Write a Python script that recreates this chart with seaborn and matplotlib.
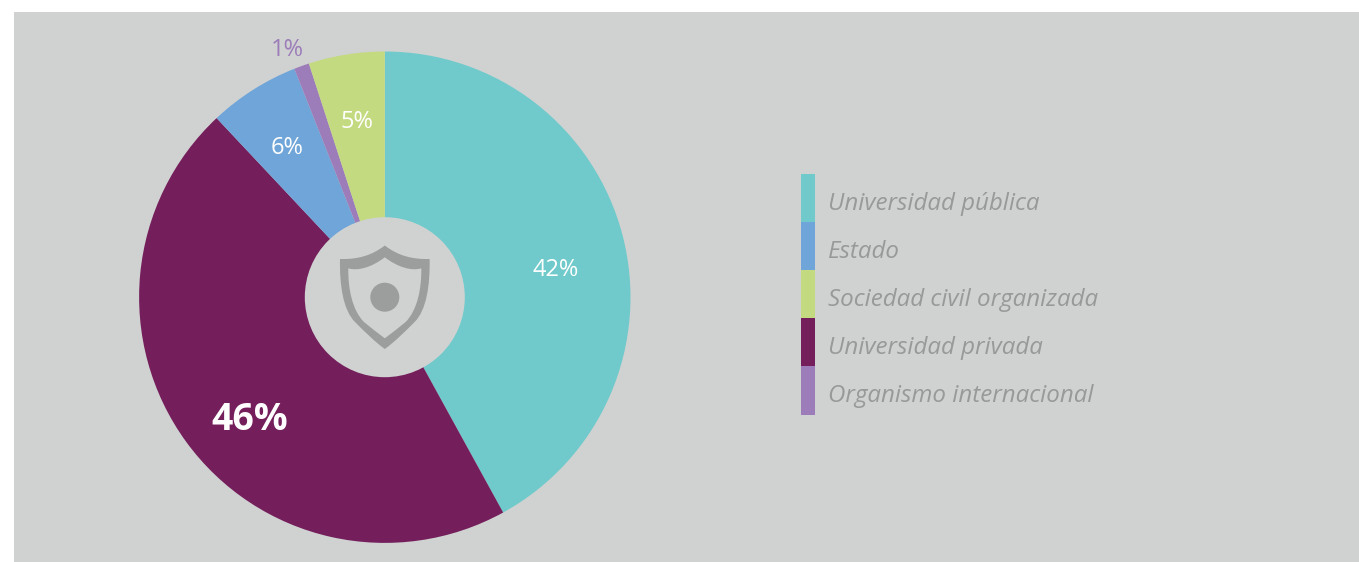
import matplotlib
matplotlib.use("Agg")
import matplotlib.pyplot as plt
import seaborn as sns
from matplotlib.patches import Circle, PathPatch, Rectangle
from matplotlib.path import Path

# chart values, clockwise from the top
categories = ["Universidad pública", "Universidad privada", "Estado", "Organismo internacional", "Sociedad civil organizada"]
shares = [42, 46, 6, 1, 5]
share_labels = ["42%", "46%", "6%", "1%", "5%"]
slice_colors = ["#70CACB", "#741F5C", "#6FA5D8", "#9C7DB9", "#C3DA81"]

# legend order is not the same as the slices
legend_order = ["Universidad pública", "Estado", "Sociedad civil organizada", "Universidad privada", "Organismo internacional"]

W, H = 1359, 562
bg_color = "#D0D2D1"
text_grey = "#989A9A"
icon_grey = "#9C9E9E"

sns.set_theme(style="white")
plt.rcParams["font.family"] = ["Open Sans", "DejaVu Sans"]
palette = sns.color_palette(slice_colors)
color_by_name = dict(zip(categories, palette))

fig = plt.figure(figsize=(W / 100, H / 100), dpi=100, facecolor="white")


def pixel_axes(zorder):
    # full figure axes in pixel coords
    a = fig.add_axes([0, 0, 1, 1], zorder=zorder)
    a.set_xlim(0, W)
    a.set_ylim(H, 0)
    a.axis("off")
    return a


# grey panel behind everything
back = pixel_axes(0)
back.add_patch(Rectangle((14, 12), W - 14, H - 12, color=bg_color, lw=0))

# the donut
radius = 245.7
cx, cy = 384.8, 297.2
ax = fig.add_axes([(cx - radius) / W, 1 - (cy + radius) / H, 2 * radius / W, 2 * radius / H], zorder=1)
ax.pie(shares, colors=palette, startangle=90, counterclock=False, radius=1,
       wedgeprops={"linewidth": 0})
ax.set_xlim(-1, 1)
ax.set_ylim(-1, 1)
ax.add_patch(Circle((0, 0), 80 / radius, color=bg_color, lw=0, zorder=3))

# everything on top of the donut
canvas = pixel_axes(2)

# value labels
label_pos = [(555.5, 269.5), (250, 420), (287, 148.5), (287, 49.5), (357, 122.5)]
label_size = [17, 27, 17, 17, 17]
label_color = ["white", "white", "white", "#9C7DB9", "white"]
label_weight = ["normal", "bold", "normal", "normal", "normal"]
for txt, pos, size, col, wgt in zip(share_labels, label_pos, label_size, label_color, label_weight):
    canvas.text(pos[0], pos[1], txt, fontsize=size, color=col, fontweight=wgt,
                ha="center", va="center")


def shield_outline(top_y, corner, side, low, bottom_y):
    # left half of the shield, mirrored for the right side
    left = [(cx, top_y), (cx - 13, top_y + 10), (cx - 27, top_y + 14), corner,
            side[0], side[1], low[0], low[1], low[2], (cx, bottom_y)]
    right = [(2 * cx - x, y) for x, y in left[-2::-1]]
    return left + right


outer = shield_outline(245.5, (340, 259), [(339.5, 285), (343, 310)],
                       [(355, 322), (365, 332), (375, 342)], 349)
inner = shield_outline(257.3, (348.3, 268.3), [(348, 288), (352, 310)],
                       [(364, 322), (371, 328), (378, 333)], 338.3)
ring_codes = [Path.MOVETO] + [Path.CURVE4] * (len(outer) - 1)
shield = Path(outer + inner[::-1], ring_codes + ring_codes)
canvas.add_patch(PathPatch(shield, facecolor=icon_grey, lw=0))
canvas.add_patch(Circle((cx, cy), 14.5, color=icon_grey, lw=0))

# legend, swatches touch each other
swatch_x, swatch_w, swatch_h = 801, 14, 48.1
top = 174
for i, name in enumerate(legend_order):
    canvas.add_patch(Rectangle((swatch_x, top + i * swatch_h), swatch_w, swatch_h,
                               color=color_by_name[name], lw=0))
    canvas.text(828, top + (i + 0.5) * swatch_h + 5.5, name, fontsize=17.35, style="italic",
                color=text_grey, ha="left", va="center")

fig.savefig("out.png", dpi=100, facecolor="white")
